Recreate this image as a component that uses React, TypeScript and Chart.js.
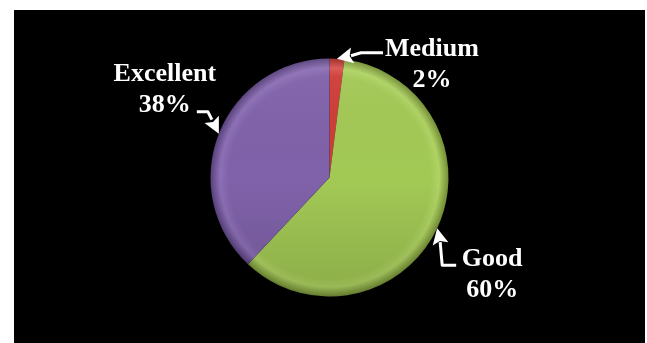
import React, { useEffect, useRef } from "react";
import { Chart, registerables } from "chart.js";

Chart.register(...registerables);

const categories: string[] = ["Medium", "Good", "Excellent"];
const shares: number[] = [2, 60, 38];
const percentLabels: string[] = ["2%", "60%", "38%"];

// style only
const sliceColors = [
  { base: "#d03c37", light: "#dc5550", dark: "#9a2622" },
  { base: "#a3c955", light: "#b0d464", dark: "#748f36" },
  { base: "#8062aa", light: "#8d70b6", dark: "#58417c" },
];

// label layout relative to the arrow tip (on the slice rim at its middle angle)
const labelLayout = [
  { arrow: [[0, 0], [14, -3], [24, -6], [46, -6]], text: [95, -3] },
  { arrow: [[0, 0], [3, 14], [5, 37], [19, 37]], text: [55, 38] },
  { arrow: [[0, 0], [-7, -14], [-11, -22], [-22, -22]], text: [-54, -53] },
];

const shadePlugin = {
  id: "shade",
  afterDatasetsDraw(chart: any) {
    const meta = chart.getDatasetMeta(0);
    const a = meta.data[0];
    if (!a) return;
    const ctx = chart.ctx as CanvasRenderingContext2D;
    const R = a.outerRadius;
    ctx.save();
    ctx.beginPath();
    ctx.arc(a.x, a.y, R, 0, Math.PI * 2);
    ctx.clip();
    const g = ctx.createLinearGradient(0, a.y - R, 0, a.y + R);
    g.addColorStop(0, "rgba(255,255,255,0.06)");
    g.addColorStop(0.5, "rgba(0,0,0,0)");
    g.addColorStop(1, "rgba(0,0,0,0.14)");
    ctx.fillStyle = g;
    ctx.fillRect(a.x - R, a.y - R, 2 * R, 2 * R);
    ctx.restore();
  },
};

const labelPlugin = {
  id: "calloutLabels",
  afterDatasetsDraw(chart: any) {
    const meta = chart.getDatasetMeta(0);
    const ctx = chart.ctx as CanvasRenderingContext2D;
    ctx.save();
    meta.data.forEach((arc: any, i: number) => {
      const mid = (arc.startAngle + arc.endAngle) / 2;
      const R = arc.outerRadius;
      const tx = arc.x + Math.cos(mid) * R;
      const ty = arc.y + Math.sin(mid) * R;
      const lay = labelLayout[i];
      const pts = lay.arrow.map(([dx, dy]) => [tx + dx, ty + dy]);
      ctx.strokeStyle = "#ffffff";
      ctx.fillStyle = "#ffffff";
      ctx.lineWidth = 3;
      ctx.lineJoin = "round";
      ctx.lineCap = "butt";
      ctx.beginPath();
      ctx.moveTo(pts[1][0], pts[1][1]);
      for (let k = 2; k < pts.length; k++) ctx.lineTo(pts[k][0], pts[k][1]);
      ctx.stroke();
      // arrow head
      const ang = Math.atan2(pts[0][1] - pts[1][1], pts[0][0] - pts[1][0]);
      const len = 16;
      const hw = 8;
      const bx = pts[0][0] - Math.cos(ang) * len;
      const by = pts[0][1] - Math.sin(ang) * len;
      ctx.beginPath();
      ctx.moveTo(pts[0][0], pts[0][1]);
      ctx.lineTo(bx + Math.sin(ang) * hw, by - Math.cos(ang) * hw);
      ctx.lineTo(bx + Math.cos(ang) * 3, by + Math.sin(ang) * 3);
      ctx.lineTo(bx - Math.sin(ang) * hw, by + Math.cos(ang) * hw);
      ctx.closePath();
      ctx.fill();
      // text
      ctx.font = "bold 26px 'Liberation Serif', 'Times New Roman', serif";
      ctx.textAlign = "center";
      ctx.textBaseline = "alphabetic";
      const cx = tx + lay.text[0];
      const cy = ty + lay.text[1];
      ctx.fillText(categories[i], cx, cy);
      ctx.fillText(percentLabels[i], cx, cy + 31);
    });
    ctx.restore();
  },
};

export default function App() {
  const ref = useRef<HTMLCanvasElement | null>(null);
  useEffect(() => {
    if (!ref.current) return;
    const chart = new Chart(ref.current, {
      type: "pie",
      data: {
        labels: categories,
        datasets: [
          {
            data: shares,
            borderWidth: 0,
            backgroundColor: (c: any) => {
              const col = sliceColors[c.dataIndex % sliceColors.length];
              const area = c.chart.chartArea;
              if (!area) return col.base;
              const cx = (area.left + area.right) / 2;
              const cy = (area.top + area.bottom) / 2;
              const r = Math.min(area.right - area.left, area.bottom - area.top) / 2;
              const g = c.chart.ctx.createRadialGradient(cx, cy, 0, cx, cy, r);
              g.addColorStop(0, col.base);
              g.addColorStop(0.85, col.base);
              g.addColorStop(0.92, col.light);
              g.addColorStop(1, col.dark);
              return g;
            },
          },
        ],
      },
      options: {
        responsive: false,
        animation: false,
        layout: { padding: { left: 196.5, right: 196.5, top: 48.5, bottom: 46.5 } },
        plugins: { legend: { display: false }, tooltip: { enabled: false } },
      },
      plugins: [shadePlugin, labelPlugin],
    });
    return () => chart.destroy();
  }, []);
  return (
    <div style={{ position: "absolute", left: 0, top: 0, width: 647, height: 343, background: "#ffffff", overflow: "hidden" }}>
      <div style={{ position: "absolute", left: 14, top: 10, width: 631, height: 333, background: "#000000" }}>
        <canvas ref={ref} width={631} height={333} style={{ display: "block" }} />
      </div>
    </div>
  );
}
